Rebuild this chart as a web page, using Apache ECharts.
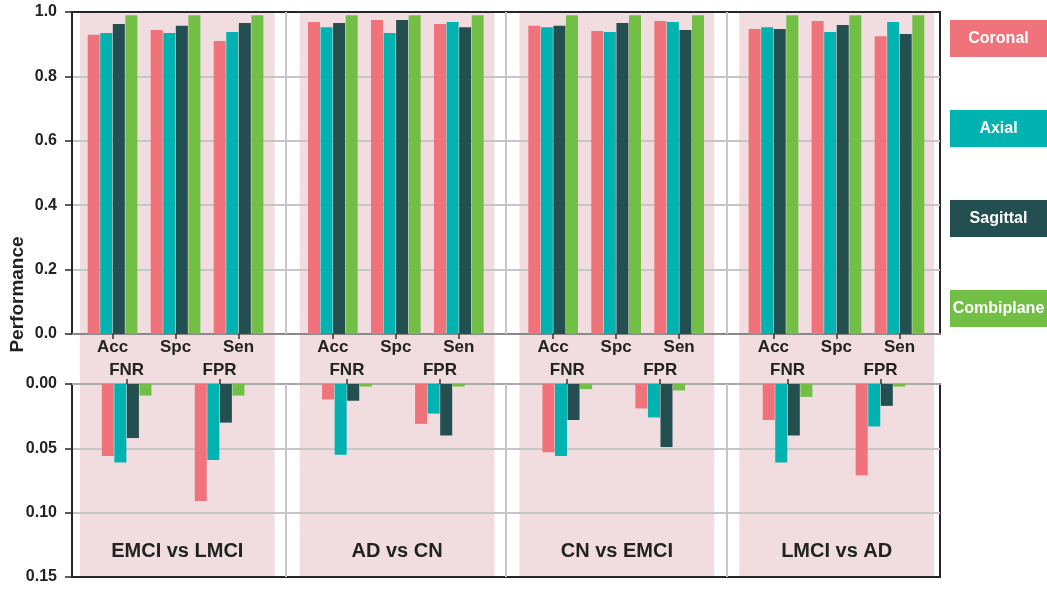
<!DOCTYPE html>
<html>
<head>
<meta charset="utf-8">
<script src="https://cdn.jsdelivr.net/npm/echarts@6/dist/echarts.min.js"></script>
<style>
html, body { margin: 0; padding: 0; background: #fff; }
#main { width: 1047px; height: 594px; }
</style>
</head>
<body>
<div id="main"></div>
<script>
// data
var groups = ['EMCI vs LMCI', 'AD vs CN', 'CN vs EMCI', 'LMCI vs AD'];
var topMetrics = ['Acc', 'Spc', 'Sen'];
var bottomMetrics = ['FNR', 'FPR'];
var planes = ['Coronal', 'Axial', 'Sagittal', 'Combiplane'];
var topTicks = [0, 0.2, 0.4, 0.6, 0.8, 1.0];
var bottomTicks = [0, 0.05, 0.10, 0.15];

// Acc, Spc, Sen for each group
var coronalTop    = [[0.929, 0.944, 0.910], [0.969, 0.975, 0.963], [0.957, 0.941, 0.972], [0.947, 0.972, 0.925]];
var axialTop      = [[0.935, 0.935, 0.938], [0.953, 0.935, 0.969], [0.953, 0.938, 0.969], [0.953, 0.938, 0.969]];
var sagittalTop   = [[0.963, 0.957, 0.966], [0.966, 0.975, 0.953], [0.957, 0.966, 0.944], [0.947, 0.960, 0.932]];
var combiplaneTop = [[0.990, 0.990, 0.990], [0.990, 0.990, 0.990], [0.990, 0.990, 0.990], [0.990, 0.990, 0.990]];

// FNR, FPR for each group
var coronalBottom    = [[0.056, 0.091], [0.012, 0.031], [0.053, 0.019], [0.028, 0.071]];
var axialBottom      = [[0.061, 0.059], [0.055, 0.023], [0.056, 0.026], [0.061, 0.033]];
var sagittalBottom   = [[0.042, 0.030], [0.013, 0.040], [0.028, 0.049], [0.040, 0.017]];
var combiplaneBottom = [[0.009, 0.009], [0.002, 0.002], [0.004, 0.005], [0.010, 0.002]];

var topValues = [coronalTop, axialTop, sagittalTop, combiplaneTop];
var bottomValues = [coronalBottom, axialBottom, sagittalBottom, combiplaneBottom];
var colors = ['#F0727B', '#00B2B0', '#244F51', '#72BF45'];

// layout helpers (x axis unit = one group)
var xMin = -0.47, xMax = 3.47;
var bandHalf = 0.443;
var topOffset = [-0.286, 0, 0.286];
var bottomOffset = [-0.222, 0.2];
var barStep = 0.057;
var font = "'Liberation Sans', Arial, sans-serif";

function metricTicks(offsets) {
    var v = [];
    groups.forEach(function (g, i) {
        offsets.forEach(function (o) { v.push(+(i + o).toFixed(4)); });
    });
    return v;
}
function metricName(names, offsets) {
    return function (v) {
        var g = Math.round(v), best = 0;
        offsets.forEach(function (o, k) {
            if (Math.abs(v - g - o) < Math.abs(v - g - offsets[best])) best = k;
        });
        return names[best];
    };
}
function barData(values, offsets, s) {
    var d = [];
    values.forEach(function (row, g) {
        row.forEach(function (val, m) {
            d.push([g + offsets[m] + (s - 1.5) * barStep, val]);
        });
    });
    return d;
}
var boundaries = groups.slice(1).map(function (g, i) { return { xAxis: i + 0.5 }; });

var myChart = echarts.init(document.getElementById('main'));

var series = [{
    type: 'custom',
    xAxisIndex: 0,
    yAxisIndex: 0,
    silent: true,
    z: -1,
    data: groups.map(function (g, i) { return [i]; }),
    renderItem: function (params, api) {
        var i = api.value(0);
        var p0 = api.coord([i - bandHalf, 1]);
        var p1 = api.coord([i + bandHalf, 0]);
        return {
            type: 'rect',
            shape: { x: p0[0], y: p0[1], width: p1[0] - p0[0], height: p1[1] - p0[1] },
            style: { fill: '#F1DDDF' }
        };
    }
}];

planes.forEach(function (name, s) {
    var top = {
        name: name,
        type: 'bar',
        xAxisIndex: 1,
        yAxisIndex: 1,
        barWidth: 12,
        barGap: '-100%',
        itemStyle: { color: colors[s] },
        data: barData(topValues[s], topOffset, s)
    };
    var bottom = {
        name: name,
        type: 'bar',
        xAxisIndex: 2,
        yAxisIndex: 2,
        barWidth: 12,
        barGap: '-100%',
        itemStyle: { color: colors[s] },
        data: barData(bottomValues[s], bottomOffset, s)
    };
    if (s === 0) {
        var ml = {
            silent: true,
            symbol: 'none',
            label: { show: false },
            lineStyle: { color: '#c6c6c6', width: 2, type: 'solid' },
            data: boundaries
        };
        top.markLine = ml;
        bottom.markLine = ml;
    }
    series.push(top, bottom);
});

var rich = {};
planes.forEach(function (p, i) {
    rich['p' + i] = {
        backgroundColor: colors[i], color: '#fff', width: 97, height: 37, lineHeight: 37,
        align: 'center', fontSize: 16, fontWeight: 'bold', fontFamily: font
    };
});

var yLabel = { color: '#222', fontSize: 16, fontWeight: 'bold', fontFamily: font, margin: 15 };

var option = {
    animation: false,
    textStyle: { fontFamily: font },
    legend: {
        orient: 'vertical',
        left: 945,
        top: 20,
        padding: 0,
        itemWidth: 0,
        itemHeight: 0,
        itemGap: 53,
        icon: 'rect',
        data: planes,
        formatter: function (n) { return '{p' + planes.indexOf(n) + '|' + n + '}'; },
        textStyle: { rich: rich }
    },
    grid: [
        { left: 72, right: 107, top: 12, bottom: 17 },
        { left: 72, right: 107, top: 12, bottom: 260, show: true, borderColor: '#262626', borderWidth: 2 },
        { left: 72, right: 107, top: 384, bottom: 17, show: true, borderColor: '#262626', borderWidth: 2 }
    ],
    xAxis: [
        {
            gridIndex: 0, type: 'value', min: xMin, max: xMax, position: 'bottom',
            axisLine: { show: false, onZero: false }, axisTick: { show: false }, splitLine: { show: false },
            axisLabel: {
                inside: true, margin: 16, customValues: groups.map(function (g, i) { return i; }),
                formatter: function (v) { return groups[Math.round(v)]; },
                color: '#222', fontSize: 20, fontWeight: 'bold', fontFamily: font
            }
        },
        {
            gridIndex: 1, type: 'value', min: xMin, max: xMax, position: 'bottom',
            axisLine: { onZero: false, lineStyle: { color: '#888', width: 2 } },
            axisTick: { customValues: metricTicks(topOffset), length: 5, lineStyle: { color: '#333', width: 1.5 } },
            axisLabel: {
                customValues: metricTicks(topOffset), formatter: metricName(topMetrics, topOffset),
                margin: 5, color: '#222', fontSize: 17, fontWeight: 'bold', fontFamily: font
            },
            splitLine: { show: false }
        },
        {
            gridIndex: 2, type: 'value', min: xMin, max: xMax, position: 'top',
            axisLine: { onZero: false, lineStyle: { color: '#aaa', width: 2 } },
            axisTick: { customValues: metricTicks(bottomOffset), length: 5, lineStyle: { color: '#333', width: 1.5 } },
            axisLabel: {
                customValues: metricTicks(bottomOffset), formatter: metricName(bottomMetrics, bottomOffset),
                margin: 5, color: '#222', fontSize: 17, fontWeight: 'bold', fontFamily: font
            },
            splitLine: { show: false }
        }
    ],
    yAxis: [
        {
            gridIndex: 0, type: 'value', min: 0, max: 1,
            axisLine: { show: false, onZero: false }, axisTick: { show: false }, axisLabel: { show: false }, splitLine: { show: false },
            name: 'Performance', nameLocation: 'middle', nameGap: 47,
            nameTextStyle: { color: '#222', fontSize: 19, fontWeight: 'bold', fontFamily: font }
        },
        {
            gridIndex: 1, type: 'value',
            min: topTicks[0], max: topTicks[topTicks.length - 1], interval: topTicks[1] - topTicks[0],
            axisLine: { show: true, onZero: false, lineStyle: { color: '#262626', width: 2 } },
            axisTick: { show: true, length: 7, lineStyle: { color: '#262626', width: 1.5 } },
            axisLabel: Object.assign({ formatter: function (v) { return v.toFixed(1); } }, yLabel),
            splitLine: { showMinLine: false, showMaxLine: false, lineStyle: { color: '#c6c6c6', width: 2 } }
        },
        {
            gridIndex: 2, type: 'value', inverse: true,
            min: bottomTicks[0], max: bottomTicks[bottomTicks.length - 1], interval: bottomTicks[1] - bottomTicks[0],
            axisLine: { show: true, onZero: false, lineStyle: { color: '#262626', width: 2 } },
            axisTick: { show: true, length: 7, lineStyle: { color: '#262626', width: 1.5 } },
            axisLabel: Object.assign({ formatter: function (v) { return v.toFixed(2); } }, yLabel),
            splitLine: { showMinLine: false, showMaxLine: false, lineStyle: { color: '#c6c6c6', width: 2 } }
        }
    ],
    series: series
};

myChart.setOption(option, true);
window.onresize = myChart.resize;
</script>
</body>
</html>
